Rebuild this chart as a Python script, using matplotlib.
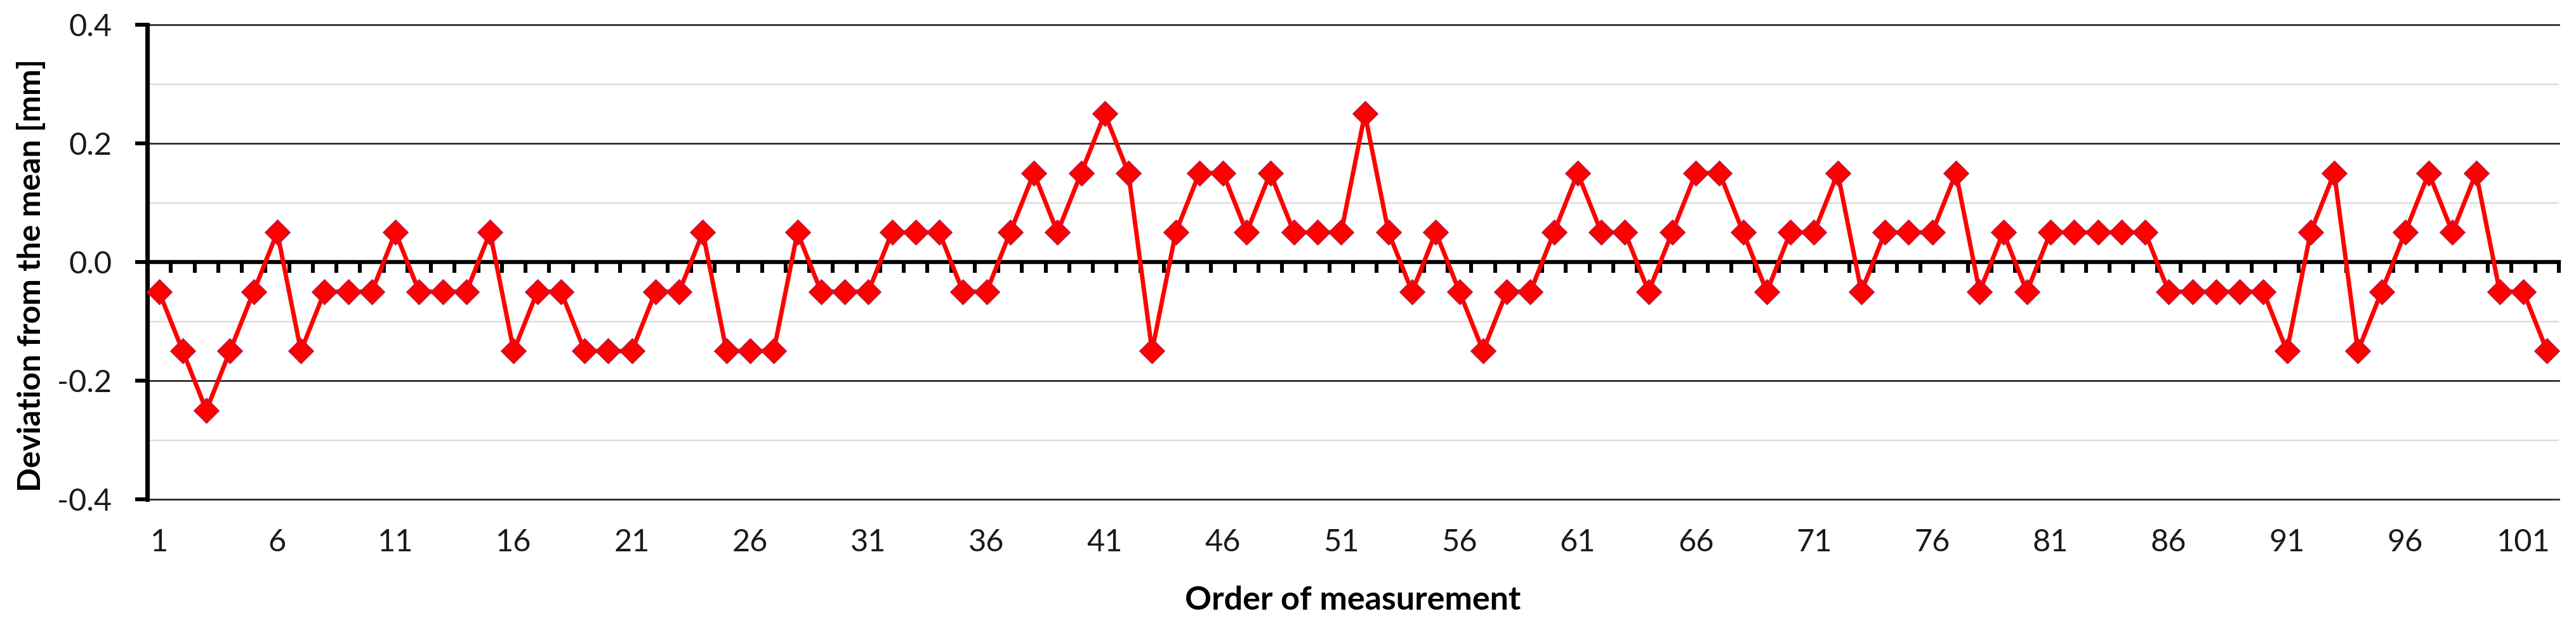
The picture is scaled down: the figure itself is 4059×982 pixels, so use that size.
import numpy as np
import matplotlib
matplotlib.use("Agg")
import matplotlib.pyplot as plt

# ---- data ----
order = list(range(1, 103))
deviation = [
    -0.05, -0.15, -0.25, -0.15, -0.05, 0.05, -0.15, -0.05, -0.05, -0.05,
    0.05, -0.05, -0.05, -0.05, 0.05, -0.15, -0.05, -0.05, -0.15, -0.15,
    -0.15, -0.05, -0.05, 0.05, -0.15, -0.15, -0.15, 0.05, -0.05, -0.05,
    -0.05, 0.05, 0.05, 0.05, -0.05, -0.05, 0.05, 0.15, 0.05, 0.15,
    0.25, 0.15, -0.15, 0.05, 0.15, 0.15, 0.05, 0.15, 0.05, 0.05,
    0.05, 0.25, 0.05, -0.05, 0.05, -0.05, -0.15, -0.05, -0.05, 0.05,
    0.15, 0.05, 0.05, -0.05, 0.05, 0.15, 0.15, 0.05, -0.05, 0.05,
    0.05, 0.15, -0.05, 0.05, 0.05, 0.05, 0.15, -0.05, 0.05, -0.05,
    0.05, 0.05, 0.05, 0.05, 0.05, -0.05, -0.05, -0.05, -0.05, -0.05,
    -0.15, 0.05, 0.15, -0.15, -0.05, 0.05, 0.15, 0.05, 0.15, -0.05,
    -0.05, -0.15,
]
x_tick_labels = [str(v) for v in range(1, 103, 5)]
y_major = [-0.4, -0.2, 0.0, 0.2, 0.4]
y_minor = [-0.3, -0.1, 0.1, 0.3]

FONT = ["Lato", "DejaVu Sans"]
plt.rcParams["font.family"] = FONT

W, H = 4059, 982
L, R, T, B = 232, 4032, 39, 787
fig = plt.figure(figsize=(W / 100, H / 100), dpi=100)
ax = fig.add_axes([L / W, 1 - B / H, (R - L) / W, (B - T) / H])

n = len(order)
ax.set_xlim(0.5, n + 0.5)
ax.set_ylim(-0.4, 0.4)

# grid
ax.set_yticks(y_major)
ax.set_yticklabels([f"{v:.1f}" for v in y_major])
ax.set_yticks(y_minor, minor=True)
ax.grid(which="major", axis="y", color="#222222", lw=1.9, zorder=0, clip_on=False)
ax.grid(which="minor", axis="y", color="#d9d9d9", lw=1.6, zorder=0)
ax.set_axisbelow(True)

# spines
for s in ["top", "right"]:
    ax.spines[s].set_visible(False)
ax.spines["left"].set_linewidth(5.0)
ax.spines["left"].set_color("black")
ax.spines["bottom"].set_position(("data", 0))
ax.spines["bottom"].set_linewidth(4.6)
ax.spines["bottom"].set_color("black")
ax.spines["bottom"].set_zorder(1.5)

# x ticks at category boundaries on the zero line
ax.set_xticks(np.arange(0.5, n + 1.0, 1.0))
ax.tick_params(axis="x", which="major", direction="out", length=12, width=4.4,
               color="black", labelbottom=False)
ax.tick_params(axis="y", which="major", direction="out", length=14, width=4.4,
               color="black", labelsize=35, pad=26)
ax.tick_params(axis="y", which="minor", length=0)
for lab in ax.get_yticklabels():
    lab.set_color("#1a1a1a")

# series
ax.plot(order, deviation, color="#ff0000", lw=5.0, marker="D", ms=20,
        markerfacecolor="#ff0000", markeredgecolor="#9b2a5a", markeredgewidth=0.8,
        zorder=3, clip_on=False)

# category labels at the bottom
sec = ax.secondary_xaxis("bottom")
sec.set_xticks([int(t) for t in x_tick_labels], x_tick_labels)
sec.tick_params(length=0, pad=33, labelsize=35, labelcolor="#1a1a1a")
sec.spines["bottom"].set_visible(False)
sec.set_xlabel("Order of measurement", fontsize=37.5, fontweight="bold", labelpad=33)

ax.set_ylabel("Deviation from the mean [mm]", fontsize=36, fontweight="bold")
ax.yaxis.set_label_coords((72 - L) / (R - L), (B - 434) / (B - T))

fig.savefig("out.png", dpi=100, facecolor="white")
